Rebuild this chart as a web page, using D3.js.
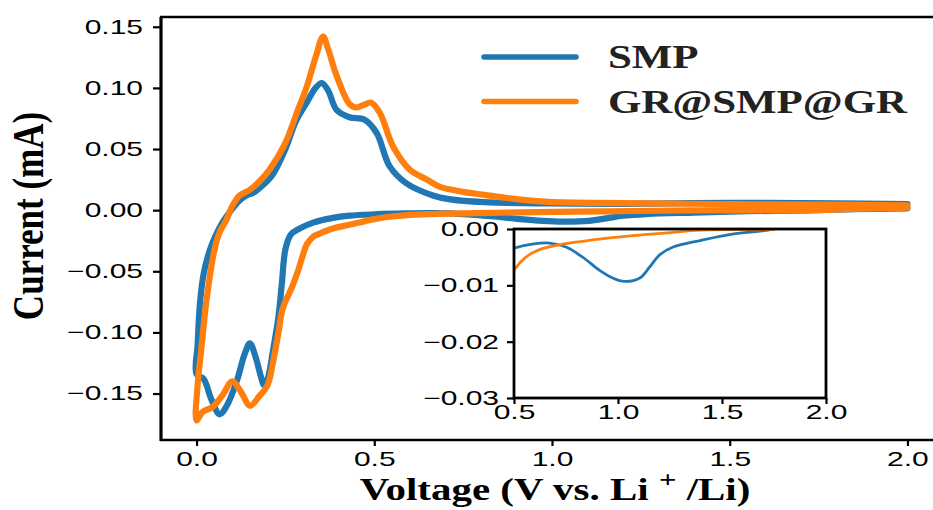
<!DOCTYPE html>
<html>
<head>
<meta charset="utf-8">
<script src="https://cdn.jsdelivr.net/npm/d3@7"></script>
<style>
  body { margin: 0; background: #fff; }
  svg { display: block; }
</style>
</head>
<body>
<div id="chart"></div>
<script>
// CV curves: cathodic scan 2.0 -> 0 V, then anodic 0 -> 2.0 V
const smpVoltage = [2.00, 1.85, 1.72, 1.55, 1.40, 1.265, 1.20, 1.153, 1.105, 1.03, 0.975, 0.91, 0.83, 0.75, 0.67, 0.587, 0.50, 0.43, 0.38, 0.33, 0.29, 0.265, 0.25, 0.24, 0.23, 0.215, 0.20, 0.19, 0.18, 0.168, 0.15, 0.135, 0.113, 0.085, 0.065, 0.042, 0.02, 0.0,
  0.003, 0.010, 0.020, 0.037, 0.055, 0.073, 0.095, 0.121, 0.14, 0.158, 0.185, 0.214, 0.25, 0.28, 0.31, 0.335, 0.352, 0.37, 0.394, 0.43, 0.473, 0.507, 0.543, 0.59, 0.665, 0.71, 0.81, 1.0, 1.2, 1.5, 1.8, 2.0];
const smpCurrent = [0.0015, 0.0008, -0.0002, -0.0009, -0.0020, -0.0032, -0.0046, -0.0067, -0.0087, -0.0093, -0.0087, -0.0073, -0.0050, -0.0032, -0.0025, -0.0027, -0.0034, -0.0045, -0.0065, -0.010, -0.015, -0.020, -0.032, -0.060, -0.088, -0.115, -0.138, -0.143, -0.135, -0.122, -0.109, -0.118, -0.140, -0.160, -0.167, -0.155, -0.138, -0.134,
  -0.110, -0.075, -0.052, -0.033, -0.020, -0.010, -0.001, 0.008, 0.012, 0.014, 0.020, 0.029, 0.050, 0.073, 0.088, 0.100, 0.104, 0.098, 0.082, 0.076, 0.074, 0.063, 0.036, 0.022, 0.012, 0.009, 0.0065, 0.0055, 0.0052, 0.006, 0.0055, 0.005];

const grVoltage = [2.00, 1.85, 1.75, 1.55, 1.395, 1.235, 1.07, 0.91, 0.72, 0.62, 0.557, 0.50, 0.43, 0.383, 0.34, 0.327, 0.31, 0.30, 0.285, 0.27, 0.243, 0.23, 0.214, 0.20, 0.177, 0.15, 0.126, 0.10, 0.074, 0.045, 0.017, 0.0,
  0.003, 0.013, 0.027, 0.05, 0.065, 0.084, 0.10, 0.121, 0.149, 0.175, 0.205, 0.25, 0.28, 0.31, 0.335, 0.356, 0.37, 0.394, 0.43, 0.45, 0.47, 0.49, 0.515, 0.553, 0.60, 0.648, 0.685, 0.75, 0.81, 0.9, 0.99, 1.2, 1.5, 1.8, 2.0];
const grCurrent = [0.002, 0.001, 0.0, -0.0001, -0.0002, -0.0007, -0.0012, -0.0018, -0.0028, -0.0037, -0.0050, -0.0073, -0.012, -0.015, -0.020, -0.022, -0.028, -0.036, -0.050, -0.062, -0.080, -0.101, -0.126, -0.143, -0.152, -0.160, -0.149, -0.140, -0.151, -0.161, -0.165, -0.172,
  -0.143, -0.115, -0.076, -0.033, -0.018, -0.008, 0.003, 0.012, 0.0165, 0.023, 0.033, 0.055, 0.078, 0.101, 0.125, 0.142, 0.132, 0.110, 0.087, 0.084, 0.086, 0.088, 0.080, 0.052, 0.033, 0.025, 0.019, 0.015, 0.0125, 0.009, 0.0068, 0.0058, 0.005, 0.0045, 0.004];

const seriesNames = ["SMP", "GR@SMP@GR"];
const seriesColors = ["#1f77b4", "#ff7f0e"];

const xTicks = [0, 0.5, 1.0, 1.5, 2.0];
const yTicks = [-0.15, -0.10, -0.05, 0.00, 0.05, 0.10, 0.15];
const insetXTicks = [0.5, 1.0, 1.5, 2.0];
const insetYTicks = [-0.03, -0.02, -0.01, 0.00];

const width = 933, height = 510;
const sx = 1.5;      // picture is stretched sideways, tick text follows it
const labelSx = 1.28;

const series = [
  { name: seriesNames[0], color: seriesColors[0], pts: smpVoltage.map((v, i) => [v, smpCurrent[i]]) },
  { name: seriesNames[1], color: seriesColors[1], pts: grVoltage.map((v, i) => [v, grCurrent[i]]) }
];

const svg = d3.select("#chart").append("svg")
  .attr("width", width)
  .attr("height", height);

const x = d3.scaleLinear().domain([-0.1, 2.1]).range([161, 943]);
const y = d3.scaleLinear().domain([-0.188, 0.158]).range([440, 17]);

const xi = d3.scaleLinear().domain([0.5, 2.0]).range([514, 826]);
const yi = d3.scaleLinear().domain([-0.03, 0]).range([398, 229]);

svg.append("clipPath").attr("id", "mainClip")
  .append("rect").attr("x", 161).attr("y", 17).attr("width", 782).attr("height", 423);
svg.append("clipPath").attr("id", "insetClip")
  .append("rect").attr("x", xi(0.5)).attr("y", yi(0)).attr("width", xi(2) - xi(0.5)).attr("height", yi(-0.03) - yi(0));

// main curves
const line = d3.line()
  .x(d => x(d[0]))
  .y(d => y(d[1]))
  .curve(d3.curveCatmullRom.alpha(0.5));

svg.append("g").attr("clip-path", "url(#mainClip)")
  .selectAll("path")
  .data(series)
  .enter().append("path")
  .attr("d", d => line(d.pts))
  .attr("fill", "none")
  .attr("stroke", d => d.color)
  .attr("stroke-width", 6.2)
  .attr("stroke-linejoin", "round")
  .attr("stroke-linecap", "round");

function styleTicks(g, textX, textY) {
  g.select(".domain").remove();
  g.selectAll(".tick line").attr("stroke", "#000").attr("stroke-width", 2.2);
  g.selectAll(".tick text")
    .attr("fill", "#000")
    .style("font-family", "'Liberation Sans', Arial, sans-serif")
    .style("font-size", "20px")
    .attr("transform", `scale(${sx},1)`);
  if (textX !== null) g.selectAll(".tick text").attr("x", textX);
  if (textY !== null) g.selectAll(".tick text").attr("y", textY);
}

// main axes
svg.append("g")
  .attr("transform", "translate(0,440)")
  .call(d3.axisBottom(x).tickValues(xTicks).tickSize(6).tickFormat(d3.format(".1f")))
  .call(g => styleTicks(g, null, 12));

svg.append("g")
  .attr("transform", "translate(161,0)")
  .call(d3.axisLeft(y).tickValues(yTicks).tickSize(8).tickFormat(d3.format(".2f")))
  .call(g => styleTicks(g, -12, null));

// spines
svg.append("line").attr("x1", 161).attr("x2", 161).attr("y1", 17).attr("y2", 441)
  .attr("stroke", "#000").attr("stroke-width", 3.2);
svg.append("line").attr("x1", 160).attr("x2", 943).attr("y1", 440).attr("y2", 440)
  .attr("stroke", "#000").attr("stroke-width", 2.6);
svg.append("line").attr("x1", 160).attr("x2", 943).attr("y1", 17).attr("y2", 17)
  .attr("stroke", "#000").attr("stroke-width", 2.6);

// axis titles
svg.append("text")
  .attr("transform", `translate(43,216) scale(1.25,1) rotate(-90)`)
  .attr("text-anchor", "middle")
  .style("font-family", "'Liberation Serif', 'Times New Roman', serif")
  .style("font-weight", "bold")
  .style("font-size", "35px")
  .text("Current (mA)");

const xTitle = svg.append("text")
  .attr("transform", `translate(555,500) scale(${labelSx},1)`)
  .attr("text-anchor", "middle")
  .style("font-family", "'Liberation Serif', 'Times New Roman', serif")
  .style("font-weight", "bold")
  .style("font-size", "32px");
xTitle.append("tspan").text("Voltage (V vs. Li ");
xTitle.append("tspan").attr("dy", -13).style("font-size", "24px").text("+");
xTitle.append("tspan").attr("dy", 13).text(" /Li)");

// legend
const legend = svg.append("g");
series.forEach((s, k) => {
  const ly = 57 + k * 44.5;
  legend.append("line")
    .attr("x1", 484).attr("x2", 576).attr("y1", ly).attr("y2", ly)
    .attr("stroke", s.color).attr("stroke-width", 5.5).attr("stroke-linecap", "round");
  legend.append("text")
    .attr("transform", `translate(608,${ly + 11}) scale(1.3,1)`)
    .style("font-family", "'Liberation Serif', 'Times New Roman', serif")
    .style("font-weight", "bold")
    .style("font-size", "33px")
    .attr("fill", "#222")
    .text(s.name);
});

// inset
svg.append("rect")
  .attr("x", xi(0.5)).attr("y", yi(0))
  .attr("width", xi(2) - xi(0.5)).attr("height", yi(-0.03) - yi(0))
  .attr("fill", "#fff");

const insetLine = d3.line()
  .x(d => xi(d[0]))
  .y(d => yi(d[1]))
  .curve(d3.curveCatmullRom.alpha(0.5));

svg.append("g").attr("clip-path", "url(#insetClip)")
  .selectAll("path")
  .data(series)
  .enter().append("path")
  .attr("d", d => insetLine(d.pts))
  .attr("fill", "none")
  .attr("stroke", d => d.color)
  .attr("stroke-width", 2.8)
  .attr("stroke-linejoin", "round");

svg.append("g")
  .attr("transform", `translate(0,${yi(-0.03)})`)
  .call(d3.axisBottom(xi).tickValues(insetXTicks).tickSize(6).tickFormat(d3.format(".1f")))
  .call(g => styleTicks(g, null, 7));

svg.append("g")
  .attr("transform", `translate(${xi(0.5)},0)`)
  .call(d3.axisLeft(yi).tickValues(insetYTicks).tickSize(7).tickFormat(d3.format(".2f")))
  .call(g => styleTicks(g, -10, null));

svg.append("rect")
  .attr("x", xi(0.5)).attr("y", yi(0))
  .attr("width", xi(2) - xi(0.5)).attr("height", yi(-0.03) - yi(0))
  .attr("fill", "none")
  .attr("stroke", "#000")
  .attr("stroke-width", 2.8);
</script>
</body>
</html>
